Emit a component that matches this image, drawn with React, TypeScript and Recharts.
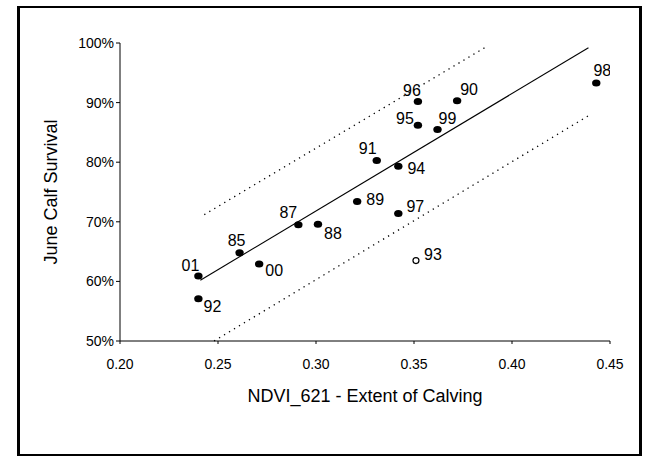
import React from 'react';
import { ScatterChart, Scatter, XAxis, YAxis, ReferenceLine, Label } from 'recharts';

// ---- data ----
const YEARS = ['01', '92', '85', '00', '87', '88', '89', '91', '94', '97', '93', '95', '96', '99', '90', '98'];
const NDVI = [0.240, 0.240, 0.261, 0.271, 0.291, 0.301, 0.321, 0.331, 0.342, 0.342, 0.351, 0.352, 0.352, 0.362, 0.372, 0.443];
const SURVIVAL = [60.9, 57.1, 64.8, 62.9, 69.5, 69.6, 73.4, 80.3, 79.3, 71.4, 63.5, 86.2, 90.2, 85.5, 90.3, 93.3];
const OPEN_YEARS = ['93'];

const REG_X = [0.241, 0.439];
const REG_Y = [60.2, 99.2];
const UPPER_X = [0.243, 0.386];
const UPPER_Y = [71.2, 99.2];
const LOWER_X = [0.248, 0.439];
const LOWER_Y = [50.0, 87.8];

const X_TICKS = [0.2, 0.25, 0.3, 0.35, 0.4, 0.45];
const Y_TICKS = [50, 60, 70, 80, 90, 100];

const X_TITLE = 'NDVI_621 - Extent of Calving';
const Y_TITLE = 'June Calf Survival';

// ---- styling ----
const FONT = '"Liberation Sans", Arial, sans-serif';
const LABEL_OFFSETS: Record<string, [number, number]> = {
  '01': [-8, -11], '92': [14, 8], '85': [-3, -12], '00': [15, 6], '87': [-10, -12],
  '88': [15, 9], '89': [18, -2], '91': [-9, -12], '94': [18, 2], '97': [17, -7],
  '93': [17, -6], '95': [-13, -7], '96': [-6, -11], '99': [10, -11], '90': [12, -11], '98': [6, -12],
};

const points = YEARS.map((year, i) => ({ year, x: NDVI[i], y: SURVIVAL[i], open: OPEN_YEARS.includes(year) }));

const seg = (xs: number[], ys: number[]) => [
  { x: xs[0], y: ys[0] },
  { x: xs[1], y: ys[1] },
];

const PointShape = (props: any) => {
  const { cx, cy, payload } = props;
  if (cx == null || cy == null) return <g />;
  const off = LABEL_OFFSETS[payload.year] || [12, -10];
  return (
    <g>
      {payload.open ? (
        <circle cx={cx} cy={cy} r={3} fill="#fff" stroke="#000" strokeWidth={1.2} />
      ) : (
        <ellipse cx={cx} cy={cy} rx={4.2} ry={3.5} fill="#000" />
      )}
      <text
        x={cx + off[0]}
        y={cy + off[1]}
        textAnchor="middle"
        dominantBaseline="central"
        fontSize={16}
        fontFamily={FONT}
        fill="#000"
      >
        {payload.year}
      </text>
    </g>
  );
};

export default function App() {
  return (
    <div style={{ position: 'fixed', left: 0, top: 0, width: 654, height: 463, background: '#fff' }}>
      <div
        style={{
          position: 'absolute',
          left: 17,
          top: 6,
          width: 619,
          height: 446,
          borderLeft: '3px solid #000',
          borderRight: '3px solid #000',
          borderTop: '2px solid #000',
          borderBottom: '2px solid #000',
        }}
      />
      <div style={{ position: 'absolute', left: 0, top: 0 }}>
        <ScatterChart width={654} height={463} margin={{ top: 43, right: 44, bottom: 92, left: 50 }}>
          <XAxis
            type="number"
            dataKey="x"
            domain={[0.2, 0.45]}
            ticks={X_TICKS}
            tickFormatter={(v: number) => v.toFixed(2)}
            height={30}
            tickSize={3}
            tickMargin={15}
            stroke="#000"
            tick={{ fill: '#000', fontSize: 14, fontFamily: FONT }}
            allowDataOverflow
          >
            <Label
              content={(p: any) => {
                const vb = p.viewBox || {};
                return (
                  <text
                    x={vb.x + vb.width / 2}
                    y={402}
                    textAnchor="middle"
                    fontSize={18}
                    fontFamily={FONT}
                    fill="#000"
                  >
                    {X_TITLE}
                  </text>
                );
              }}
            />
          </XAxis>
          <YAxis
            type="number"
            dataKey="y"
            domain={[50, 100]}
            ticks={Y_TICKS}
            tickFormatter={(v: number) => `${v}%`}
            width={70}
            tickSize={4}
            tickMargin={2}
            stroke="#000"
            tick={{ fill: '#000', fontSize: 14, fontFamily: FONT }}
            allowDataOverflow
          >
            <Label
              content={(p: any) => {
                const vb = p.viewBox || {};
                const cy = vb.y + vb.height / 2;
                const cx = 51;
                return (
                  <text
                    x={cx}
                    y={cy}
                    transform={`rotate(-90 ${cx} ${cy})`}
                    textAnchor="middle"
                    dominantBaseline="central"
                    fontSize={18}
                    fontFamily={FONT}
                    fill="#000"
                  >
                    {Y_TITLE}
                  </text>
                );
              }}
            />
          </YAxis>
          <ReferenceLine segment={seg(UPPER_X, UPPER_Y)} stroke="#000" strokeWidth={1.3} strokeDasharray="1.3 4.5" />
          <ReferenceLine segment={seg(LOWER_X, LOWER_Y)} stroke="#000" strokeWidth={1.3} strokeDasharray="1.3 4.5" />
          <ReferenceLine segment={seg(REG_X, REG_Y)} stroke="#000" strokeWidth={1.1} />
          <Scatter data={points} shape={PointShape} isAnimationActive={false} />
        </ScatterChart>
      </div>
    </div>
  );
}
